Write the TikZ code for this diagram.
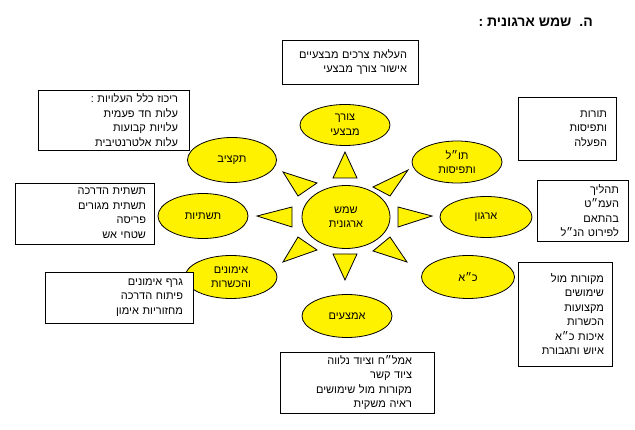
\documentclass[tikz,border=0pt]{standalone}
\usepackage{fontspec}
\usepackage{tikz}
\usetikzlibrary{shapes.geometric}
\TeXXeTstate=1
\newfontfamily\hebfont[Script=Hebrew]{Liberation Sans}
\newcommand{\hb}[1]{\beginR #1\endR}

\begin{document}
\begin{tikzpicture}[x=1pt,y=-1pt,
 sun/.style={ellipse,draw=black,fill=yellow,line width=0.8pt,inner sep=0pt,align=center,
  font=\hebfont\fontsize{11}{14.5}\selectfont},
 ray/.style={draw=black,fill=yellow,line width=0.8pt,line join=miter},
 infobox/.style={rectangle,draw=black,fill=white,line width=0.8pt,align=right,inner ysep=0pt,
  font=\hebfont\fontsize{11}{14.5}\selectfont}]
 \useasboundingbox (0,0) rectangle (635,430);
 % title
 \node[anchor=east,inner sep=0pt,font=\hebfont\bfseries\fontsize{14}{16}\selectfont] (title) at (593,22)
  {\hb{ה.\hspace{8pt}שמש ארגונית :}};
 % sun
 \node[sun,minimum width=88,minimum height=63] (core) at (346,217) {\hb{שמש}\\\hb{ארגונית}};
 \node[sun,minimum width=90,minimum height=41] (need) at (345,125) {\hb{צורך}\\\hb{מבצעי}};
 \node[sun,minimum width=89,minimum height=45] (budget) at (232,160) {\hb{תקציב}};
 \node[sun,minimum width=90,minimum height=45] (infra) at (203,216) {\hb{תשתיות}};
 \node[sun,minimum width=92,minimum height=43] (train) at (231,277) {\hb{אימונים}\\\hb{והכשרות}};
 \node[sun,minimum width=90,minimum height=43] (means) at (347,316) {\hb{אמצעים}};
 \node[sun,minimum width=93,minimum height=43] (staff) at (468,277) {\hb{כ״א}};
 \node[sun,minimum width=92,minimum height=41] (org) at (486,217) {\hb{ארגון}};
 \node[sun,minimum width=90,minimum height=42] (doctrine) at (457,162) {\hb{תו״ל}\\\hb{ותפיסות}};
 % rays
 \filldraw[ray] (345,152) -- (333,178) -- (357,178) -- cycle;
 \filldraw[ray] (345,280) -- (333,254) -- (357,254) -- cycle;
 \filldraw[ray] (257,216) -- (292,207) -- (292,227) -- cycle;
 \filldraw[ray] (432,216) -- (398,207) -- (398,227) -- cycle;
 \filldraw[ray] (283,172) -- (317,183) -- (298,196) -- cycle;
 \filldraw[ray] (408,170) -- (373,187) -- (390,196) -- cycle;
 \filldraw[ray] (283,262) -- (298,237) -- (317,250) -- cycle;
 \filldraw[ray] (407,262) -- (390,237) -- (373,251) -- cycle;
 % boxes
 \node[infobox,text width=114,inner xsep=11,minimum height=44] (needbox) at (350,62)
  {\hb{העלאת צרכים מבצעיים}\\\hb{אישור צורך מבצעי}};
 \node[infobox,text width=129,inner xsep=11,minimum height=60] (budgetbox) at (113.5,120)
  {\hb{ריכוז כלל העלויות :}\\\hb{עלות חד פעמית}\\\hb{עלויות קבועות}\\\hb{עלות אלטרנטיבית}};
 \node[infobox,text width=80,inner xsep=9,minimum height=63] (doctrinebox) at (567,128.5)
  {\hb{תורות}\\\hb{ותפיסות}\\\hb{הפעלה}};
 \node[infobox,text width=73,inner xsep=9,minimum height=61] (orgbox) at (582.5,210.5)
  {\hb{תהליך}\\\hb{העמ״ט}\\\hb{בהתאם}\\\hb{לפירוט הנ״ל}};
 \node[infobox,text width=123,inner xsep=8,minimum height=61] (infrabox) at (84.5,213.5)
  {\hb{תשתית הדרכה}\\\hb{תשתית מגורים}\\\hb{פריסה}\\\hb{שטחי אש}};
 \node[infobox,text width=128,inner xsep=10,minimum height=51] (trainbox) at (119,297.5)
  {\hb{גרף אימונים}\\\hb{פיתוח הדרכה}\\\hb{מחזוריות אימון}};
 \node[infobox,text width=78,inner xsep=8,minimum height=104] (staffbox) at (565,314)
  {\hb{מקורות מול}\\\hb{שימושים}\\\hb{מקצועות}\\\hb{הכשרות}\\\hb{איכות כ״א}\\\hb{איוש ותגבורת}};
 \node[infobox,text width=110,inner xsep=22,minimum height=61] (meansbox) at (357,382.5)
  {\hb{אמל״ח וציוד נלווה}\\\hb{ציוד קשר}\\\hb{מקורות מול שימושים}\\\hb{ראיה משקית}};
\end{tikzpicture}
\end{document}
